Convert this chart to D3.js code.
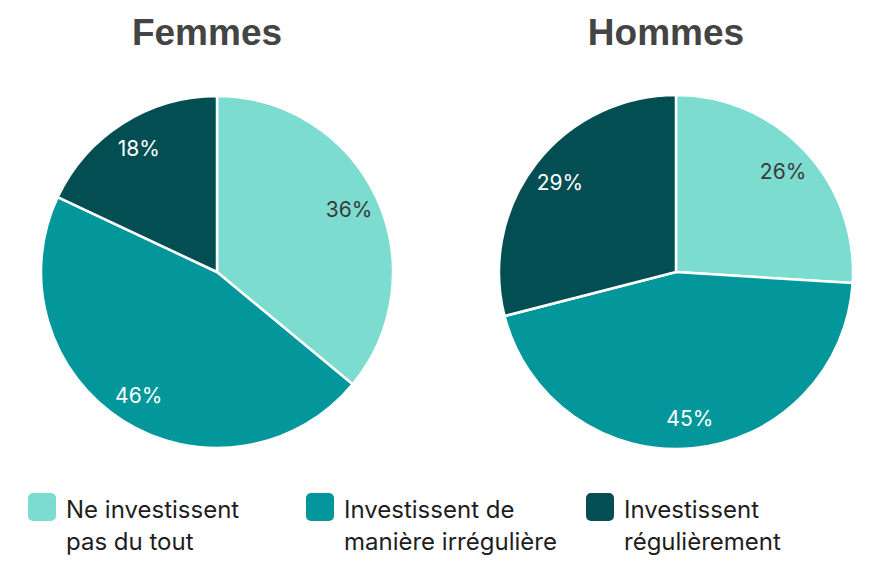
<!DOCTYPE html>
<html>
<head>
<meta charset="utf-8">
<script src="https://cdn.jsdelivr.net/npm/d3@7"></script>
<style>
  html, body { margin: 0; padding: 0; background: #ffffff; }
  svg { display: block; }
</style>
</head>
<body>
<svg id="chart" width="895" height="562"></svg>
<script>
const categories = ["Ne investissent pas du tout", "Investissent de manière irrégulière", "Investissent régulièrement"];
const legendLines = [["Ne investissent", "pas du tout"], ["Investissent de", "manière irrégulière"], ["Investissent", "régulièrement"]];
const groups = ["Femmes", "Hommes"];
const femmesValues = [36, 46, 18];
const hommesValues = [26, 45, 29];
const colors = ["#7DDCD0", "#03979C", "#034E52"];
const labelColors = ["#3a3a3a", "#ffffff", "#ffffff"];

const svg = d3.select("#chart");
const radii = [176, 177];
const centers = d3.scalePoint().domain(groups).range([217, 676]);
const cy = 272;
const seriesValues = [femmesValues, hommesValues];

const pie = d3.pie().sort(null).value(d => d);

groups.forEach((g, gi) => {
  const cx = centers(g);
  const radius = radii[gi];
  const arc = d3.arc().innerRadius(0).outerRadius(radius);
  const labelArc = d3.arc().innerRadius(radius * 0.83).outerRadius(radius * 0.83);
  const gEl = svg.append("g").attr("transform", `translate(${cx},${cy})`);
  const arcs = pie(seriesValues[gi]);
  gEl.selectAll("path").data(arcs).join("path")
    .attr("d", arc)
    .attr("fill", (d, i) => colors[i])
    .attr("stroke", "#ffffff")
    .attr("stroke-width", 2.5)
    .attr("stroke-linejoin", "round");
  gEl.selectAll("text.lbl").data(arcs).join("text")
    .attr("class", "lbl")
    .attr("transform", d => `translate(${labelArc.centroid(d)})`)
    .attr("text-anchor", "middle")
    .attr("dy", "0.36em")
    .attr("font-family", "Inter, 'Noto Sans', sans-serif")
    .attr("font-size", 21)
    .attr("fill", (d, i) => labelColors[i])
    .text(d => d.data + "%");
  svg.append("text")
    .attr("x", cx - 10)
    .attr("y", 45)
    .attr("text-anchor", "middle")
    .attr("font-family", "'Liberation Sans', Arial, sans-serif")
    .attr("font-weight", "bold")
    .attr("font-size", 37)
    .attr("fill", "#444444")
    .text(g);
});

// Legend
const legendX = d3.scaleOrdinal().domain(categories).range([28, 306, 586]);
const leg = svg.append("g");
categories.forEach((c, i) => {
  const x = legendX(c);
  leg.append("rect")
    .attr("x", x).attr("y", 493)
    .attr("width", 28).attr("height", 28)
    .attr("rx", 5).attr("ry", 5)
    .attr("fill", colors[i]);
  const t = leg.append("text")
    .attr("x", x + 38)
    .attr("y", 518)
    .attr("font-family", "Inter, 'Noto Sans', sans-serif")
    .attr("font-size", 24)
    .attr("fill", "#1e1e1e");
  legendLines[i].forEach((line, li) => {
    t.append("tspan").attr("x", x + 38).attr("dy", li === 0 ? 0 : 32).text(line);
  });
});
</script>
</body>
</html>
